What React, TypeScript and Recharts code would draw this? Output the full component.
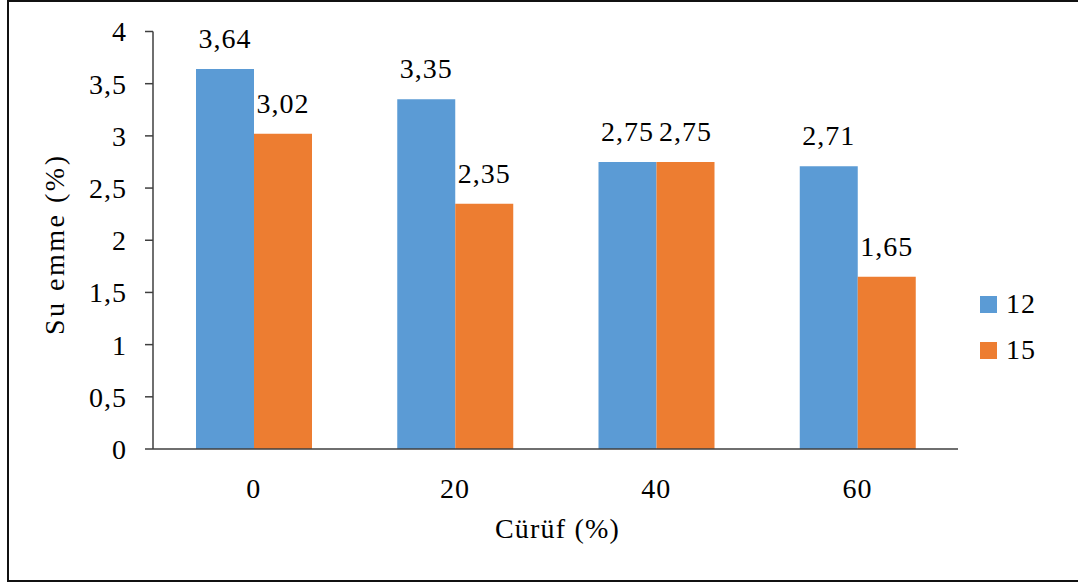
import React from 'react'
import { BarChart, Bar, XAxis, YAxis, LabelList } from 'recharts'

// Slag content (%) on the x axis
const categories = ['0', '20', '40', '60']
// Water absorption (%) per series
const series12 = [3.64, 3.35, 2.75, 2.71]
const series15 = [3.02, 2.35, 2.75, 1.65]
const yTicks = [0, 0.5, 1, 1.5, 2, 2.5, 3, 3.5, 4]

const seriesDefs = [
  { key: 's12', name: '12', color: '#5B9BD5' },
  { key: 's15', name: '15', color: '#ED7D31' },
]

const chartData = categories.map((c, i) => ({
  cat: c,
  s12: series12[i],
  s15: series15[i],
}))

const FONT = 'Liberation Serif'
const FS = 28
const AXIS = '#3f3f3f'
const numStyle = { letterSpacing: '1px' }

const comma = (v: number) => String(v).replace('.', ',')
const fixed2 = (v: number) => v.toFixed(2).replace('.', ',')

function YTitle(props: any) {
  const vb = props.viewBox || { y: 31, height: 418 }
  const x = 64
  const y = vb.y + vb.height / 2 + 4
  return (
    <text
      x={x}
      y={y}
      transform={`rotate(-90 ${x} ${y})`}
      textAnchor="middle"
      fontSize={28}
      fontFamily={FONT}
      fill="#000"
      style={{ letterSpacing: '2.5px' }}
    >
      Su emme (%)
    </text>
  )
}

function XTitle(props: any) {
  const vb = props.viewBox || { x: 153, width: 805 }
  return (
    <text
      x={vb.x + vb.width / 2 + 2}
      y={538}
      textAnchor="middle"
      fontSize={28}
      fontFamily={FONT}
      fill="#000"
      style={{ letterSpacing: '1.2px' }}
    >
      Cürüf (%)
    </text>
  )
}

export default function App() {
  return (
    <div
      style={{
        position: 'fixed',
        left: 0,
        top: 0,
        width: 1078,
        height: 583,
        overflow: 'hidden',
        background: '#fff',
        fontFamily: FONT,
      }}
    >
      {/* frame: right edge is cut off */}
      <div
        style={{
          position: 'absolute',
          left: 7,
          top: 0,
          width: 1071,
          height: 582,
          boxSizing: 'border-box',
          borderTop: '2px solid #111',
          borderLeft: '2px solid #111',
          borderBottom: '2px solid #111',
        }}
      />
      <div style={{ position: 'absolute', left: 0, top: 0 }}>
        <BarChart
          width={1078}
          height={583}
          data={chartData}
          margin={{ top: 31.5, right: 120, bottom: 104, left: 0 }}
          barCategoryGap={43}
          barGap={0}
        >
          <XAxis
            dataKey="cat"
            height={30}
            axisLine={{ stroke: AXIS, strokeWidth: 1.5 }}
            tickLine={false}
            tickSize={0}
            tickMargin={29}
            tick={{ fontSize: FS, fill: '#000', fontFamily: FONT, style: numStyle }}
            label={<XTitle />}
          />
          <YAxis
            width={153}
            domain={[0, 4]}
            ticks={yTicks}
            interval={0}
            tickFormatter={comma}
            axisLine={{ stroke: AXIS, strokeWidth: 1.5 }}
            tickLine={{ stroke: AXIS, strokeWidth: 1.5 }}
            tickSize={8}
            tickMargin={18}
            tick={{ fontSize: FS, fill: '#000', fontFamily: FONT, style: numStyle }}
            label={<YTitle />}
          />
          {seriesDefs.map((s) => (
            <Bar
              key={s.key}
              dataKey={s.key}
              name={s.name}
              fill={s.color}
              isAnimationActive={false}
            >
              <LabelList
                dataKey={s.key}
                position="top"
                offset={21}
                formatter={(v: any) => fixed2(Number(v))}
                fontSize={FS}
                fontFamily={FONT}
                fill="#000"
                style={numStyle}
              />
            </Bar>
          ))}
        </BarChart>
      </div>
      {/* legend */}
      {seriesDefs.map((s, i) => (
        <div
          key={s.key}
          style={{
            position: 'absolute',
            left: 980,
            top: 290 + i * 46,
            height: 28,
            display: 'flex',
            alignItems: 'center',
            fontSize: FS,
            letterSpacing: '1px',
            color: '#000',
          }}
        >
          <div style={{ width: 17, height: 17, background: s.color, marginRight: 9 }} />
          <span>{s.name}</span>
        </div>
      ))}
    </div>
  )
}
